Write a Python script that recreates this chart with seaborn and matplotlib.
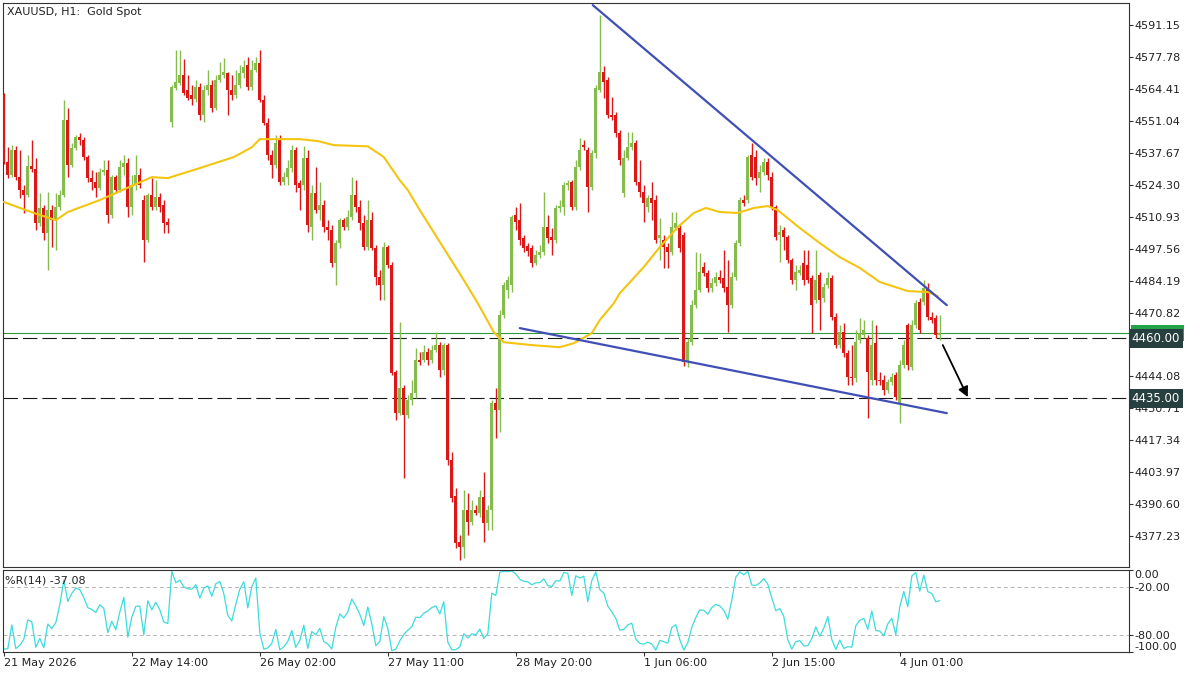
import seaborn as sns
import pandas as pd
import numpy as np
import matplotlib.pyplot as plt
import matplotlib.transforms as mtransforms
from matplotlib.patches import Rectangle

#-----------------------------------------------------------------------------------------------------------------------
"""Data read off the chart (H1 candles, one row of ten per line)"""
opens = [
    4561.9, 4533.8, 4528.3, 4538.8, 4527.5, 4522.1, 4520.0, 4532.1, 4530.9, 4508.3,
    4514.6, 4504.1, 4513.7, 4509.5, 4515.0, 4520.0, 4551.3, 4532.5, 4539.6, 4544.2,
    4543.0, 4535.9, 4527.1, 4525.4, 4522.9, 4529.6, 4530.4, 4511.6, 4527.5, 4522.1,
    4531.7, 4533.4, 4515.0, 4524.2, 4528.3, 4517.9, 4501.2, 4520.0, 4515.0, 4519.1,
    4515.8, 4508.7, 4550.5, 4564.8, 4566.9, 4570.2, 4564.0, 4561.9, 4560.2, 4565.2,
    4553.4, 4564.0, 4566.1, 4556.4, 4568.1, 4570.2, 4571.1, 4564.0, 4561.9, 4566.1,
    4571.1, 4574.4, 4565.2, 4572.3, 4575.3, 4559.7, 4550.1, 4536.7, 4532.5, 4543.0,
    4525.4, 4527.5, 4531.3, 4538.8, 4525.0, 4524.2, 4535.5, 4506.6, 4520.8, 4513.7,
    4515.8, 4506.6, 4505.3, 4491.6, 4499.9, 4509.5, 4506.6, 4510.8, 4520.0, 4515.0,
    4508.3, 4498.2, 4509.5, 4497.8, 4485.7, 4482.4, 4498.2, 4490.7, 4445.9, 4428.8,
    4439.2, 4427.9, 4434.2, 4437.1, 4450.9, 4450.9, 4454.3, 4450.9, 4455.1, 4457.2,
    4446.7, 4457.2, 4409.0, 4393.9, 4374.7, 4372.6, 4388.1, 4383.1, 4388.1, 4386.9,
    4393.6, 4382.7, 4388.1, 4432.9, 4430.0, 4469.7, 4480.3, 4482.4, 4511.6, 4509.5,
    4502.0, 4498.6, 4497.8, 4491.6, 4494.9, 4496.2, 4506.6, 4502.5, 4501.2, 4514.6,
    4515.0, 4524.2, 4525.4, 4515.0, 4531.7, 4540.9, 4538.8, 4523.3, 4537.5, 4564.0,
    4571.5, 4568.1, 4553.4, 4553.4, 4545.9, 4520.8, 4535.5, 4540.0, 4541.7, 4525.4,
    4521.2, 4515.0, 4518.7, 4517.9, 4502.0, 4501.2, 4498.2, 4496.2, 4506.2, 4506.2,
    4503.3, 4450.1, 4458.4, 4473.9, 4480.3, 4489.9, 4487.4, 4481.1, 4483.2, 4485.7,
    4485.3, 4481.6, 4473.9, 4485.7, 4499.9, 4517.9, 4517.9, 4536.7, 4535.9, 4527.1,
    4529.6, 4533.8, 4527.5, 4515.0, 4503.3, 4505.3, 4502.5, 4492.8, 4484.5, 4487.4,
    4491.6, 4490.7, 4485.3, 4476.0, 4486.5, 4476.8, 4482.4, 4485.3, 4468.9, 4457.2,
    4462.6, 4453.9, 4443.8, 4443.4, 4459.3, 4461.4, 4460.1, 4442.5, 4458.0, 4442.5,
    4442.5, 4438.3, 4441.7, 4444.6, 4432.9, 4448.8, 4465.5, 4448.0, 4465.5, 4475.2,
    4475.2, 4481.1, 4468.9, 4468.5, 4461.4,
]
closes = [
    4533.8, 4528.3, 4538.8, 4527.5, 4522.1, 4520.0, 4532.1, 4530.9, 4508.3, 4514.6,
    4504.1, 4513.7, 4509.5, 4515.0, 4520.0, 4551.3, 4532.5, 4539.6, 4544.2, 4543.0,
    4535.9, 4527.1, 4525.4, 4522.9, 4529.6, 4530.4, 4511.6, 4527.5, 4522.1, 4531.7,
    4533.4, 4515.0, 4524.2, 4528.3, 4524.2, 4501.2, 4520.0, 4515.0, 4519.1, 4515.0,
    4508.3, 4507.4, 4565.2, 4567.3, 4570.2, 4562.7, 4560.6, 4560.2, 4565.2, 4553.4,
    4564.0, 4566.1, 4556.4, 4568.1, 4570.2, 4571.5, 4564.0, 4561.9, 4566.1, 4571.1,
    4573.6, 4565.2, 4572.3, 4575.3, 4559.7, 4550.1, 4536.7, 4532.5, 4541.7, 4525.4,
    4527.5, 4531.3, 4538.8, 4524.2, 4522.9, 4535.5, 4507.4, 4520.8, 4513.7, 4515.8,
    4506.6, 4505.3, 4491.6, 4499.9, 4509.5, 4506.6, 4510.8, 4520.0, 4515.0, 4508.3,
    4498.2, 4509.5, 4497.8, 4485.7, 4482.4, 4498.2, 4490.7, 4445.5, 4428.8, 4439.2,
    4427.9, 4434.2, 4437.1, 4450.9, 4450.1, 4454.3, 4450.9, 4455.1, 4457.2, 4446.7,
    4457.2, 4409.0, 4393.1, 4374.3, 4372.6, 4388.1, 4383.1, 4388.1, 4386.9, 4393.6,
    4382.7, 4388.1, 4432.9, 4430.0, 4469.7, 4482.4, 4484.5, 4510.8, 4508.7, 4501.2,
    4497.8, 4496.6, 4491.6, 4494.9, 4496.2, 4506.6, 4502.0, 4501.2, 4514.6, 4515.4,
    4524.2, 4525.0, 4515.0, 4531.7, 4538.8, 4540.0, 4523.3, 4537.5, 4564.8, 4571.5,
    4567.3, 4553.4, 4552.6, 4545.9, 4534.6, 4535.5, 4540.0, 4541.7, 4525.4, 4521.2,
    4516.6, 4518.7, 4516.6, 4501.2, 4503.3, 4498.2, 4496.2, 4506.6, 4508.3, 4497.8,
    4450.1, 4458.4, 4473.9, 4480.3, 4487.8, 4487.4, 4481.1, 4483.2, 4485.7, 4484.5,
    4481.1, 4473.9, 4485.7, 4499.9, 4517.9, 4516.6, 4535.9, 4527.5, 4527.1, 4529.6,
    4533.8, 4528.3, 4515.0, 4502.5, 4504.5, 4502.5, 4492.8, 4484.5, 4487.8, 4488.6,
    4484.5, 4484.5, 4473.9, 4484.5, 4476.0, 4481.6, 4485.3, 4468.9, 4457.2, 4462.6,
    4453.9, 4443.8, 4443.4, 4458.4, 4462.2, 4463.5, 4445.9, 4457.2, 4442.5, 4442.1,
    4438.3, 4441.7, 4443.8, 4435.4, 4448.8, 4457.2, 4448.8, 4465.5, 4474.7, 4463.5,
    4481.1, 4468.9, 4467.5, 4461.4, 4462.2,
]
highs = [
    4562.7, 4540.0, 4540.9, 4540.4, 4538.8, 4524.2, 4536.7, 4543.0, 4535.5, 4520.8,
    4515.8, 4521.2, 4515.8, 4520.8, 4522.1, 4559.7, 4556.4, 4541.7, 4545.1, 4545.9,
    4544.2, 4536.7, 4530.4, 4529.6, 4531.3, 4534.6, 4534.6, 4528.3, 4528.3, 4534.6,
    4536.7, 4535.5, 4528.3, 4536.7, 4531.3, 4520.0, 4520.8, 4527.1, 4526.2, 4520.8,
    4517.9, 4510.4, 4566.1, 4580.7, 4580.7, 4576.9, 4570.2, 4566.1, 4568.1, 4566.9,
    4566.1, 4572.3, 4568.1, 4570.2, 4575.7, 4577.3, 4571.5, 4570.2, 4572.3, 4574.4,
    4576.5, 4577.8, 4576.5, 4577.8, 4580.7, 4561.9, 4552.2, 4538.8, 4545.1, 4545.1,
    4529.6, 4534.6, 4540.9, 4540.0, 4526.2, 4540.4, 4538.8, 4524.2, 4531.7, 4525.4,
    4517.9, 4509.5, 4507.4, 4501.2, 4510.4, 4510.4, 4513.7, 4527.5, 4526.2, 4517.9,
    4511.6, 4517.9, 4512.9, 4499.1, 4488.6, 4500.3, 4499.1, 4492.0, 4446.7, 4466.8,
    4440.4, 4436.3, 4442.5, 4455.9, 4454.3, 4457.2, 4455.9, 4457.2, 4462.6, 4458.4,
    4458.0, 4458.0, 4412.4, 4397.3, 4377.6, 4396.5, 4395.2, 4392.3, 4390.2, 4396.5,
    4404.0, 4390.2, 4434.2, 4439.2, 4471.8, 4483.6, 4486.1, 4511.6, 4515.0, 4516.6,
    4503.3, 4499.9, 4499.1, 4497.0, 4499.1, 4521.2, 4511.6, 4506.2, 4515.8, 4517.9,
    4525.4, 4526.2, 4526.2, 4534.6, 4543.8, 4543.0, 4540.0, 4538.8, 4566.1, 4595.3,
    4574.0, 4569.4, 4561.0, 4554.7, 4547.1, 4538.8, 4546.3, 4546.3, 4543.0, 4534.6,
    4524.2, 4520.0, 4525.4, 4520.0, 4510.4, 4503.3, 4499.9, 4512.9, 4512.9, 4507.4,
    4504.5, 4460.1, 4476.0, 4496.2, 4495.7, 4492.0, 4488.6, 4485.3, 4487.8, 4488.6,
    4497.0, 4492.8, 4487.8, 4501.2, 4519.1, 4520.0, 4536.7, 4541.7, 4538.8, 4532.5,
    4535.5, 4535.5, 4529.6, 4515.8, 4507.4, 4506.6, 4503.3, 4493.7, 4490.7, 4490.7,
    4497.0, 4497.0, 4486.5, 4497.0, 4487.8, 4483.2, 4487.8, 4486.5, 4470.6, 4465.5,
    4466.4, 4455.1, 4457.2, 4463.5, 4468.5, 4467.5, 4461.4, 4467.5, 4465.5, 4445.9,
    4444.6, 4443.0, 4445.5, 4445.9, 4450.9, 4459.3, 4466.4, 4467.5, 4476.0, 4476.8,
    4484.5, 4483.2, 4471.0, 4469.7, 4469.7,
]
lows = [
    4532.9, 4527.1, 4527.5, 4526.2, 4518.7, 4512.5, 4519.1, 4529.6, 4505.3, 4507.0,
    4501.2, 4488.6, 4498.2, 4497.0, 4513.7, 4519.1, 4527.5, 4531.7, 4538.8, 4540.9,
    4534.6, 4525.4, 4522.1, 4519.1, 4522.1, 4528.3, 4508.3, 4510.4, 4520.8, 4521.2,
    4528.3, 4510.8, 4511.6, 4522.1, 4522.9, 4492.0, 4500.3, 4513.7, 4513.7, 4512.9,
    4504.1, 4504.1, 4548.4, 4564.0, 4566.1, 4561.9, 4559.7, 4557.6, 4558.9, 4551.3,
    4550.5, 4561.9, 4554.7, 4555.5, 4567.3, 4568.9, 4553.4, 4559.7, 4560.6, 4564.8,
    4568.9, 4564.0, 4564.0, 4571.5, 4558.9, 4549.2, 4534.6, 4527.1, 4531.3, 4524.2,
    4524.2, 4524.2, 4529.6, 4521.2, 4513.7, 4522.1, 4504.5, 4501.2, 4512.5, 4509.5,
    4504.5, 4501.2, 4489.9, 4482.4, 4497.8, 4505.3, 4505.3, 4509.5, 4512.9, 4505.3,
    4497.0, 4497.0, 4497.0, 4482.4, 4476.0, 4476.0, 4489.5, 4444.6, 4425.8, 4427.9,
    4401.5, 4426.7, 4432.1, 4435.0, 4448.8, 4450.1, 4448.8, 4449.7, 4454.3, 4443.8,
    4444.6, 4406.9, 4391.5, 4372.2, 4367.2, 4368.0, 4377.6, 4381.8, 4386.0, 4385.2,
    4374.7, 4379.7, 4379.7, 4418.3, 4420.8, 4468.5, 4476.8, 4479.4, 4505.3, 4499.1,
    4496.2, 4494.5, 4489.9, 4490.7, 4493.7, 4494.9, 4499.9, 4494.9, 4499.9, 4512.9,
    4511.6, 4522.1, 4513.7, 4513.7, 4530.4, 4538.8, 4512.9, 4522.1, 4535.5, 4563.1,
    4560.6, 4552.2, 4551.3, 4544.2, 4532.5, 4519.1, 4534.6, 4538.8, 4524.2, 4519.1,
    4508.7, 4512.9, 4509.5, 4499.9, 4492.8, 4489.5, 4489.5, 4494.9, 4505.3, 4496.2,
    4448.4, 4448.0, 4457.2, 4472.7, 4479.4, 4486.1, 4479.4, 4479.4, 4482.0, 4483.2,
    4479.4, 4462.6, 4472.7, 4484.5, 4498.6, 4515.4, 4516.6, 4526.2, 4524.2, 4521.2,
    4528.3, 4526.2, 4513.7, 4501.2, 4492.0, 4497.0, 4491.6, 4482.8, 4480.3, 4486.5,
    4482.4, 4483.2, 4462.2, 4474.7, 4463.5, 4475.2, 4481.1, 4467.5, 4455.9, 4455.9,
    4452.2, 4440.4, 4440.4, 4441.7, 4458.0, 4460.1, 4426.7, 4440.4, 4440.4, 4440.4,
    4436.3, 4437.1, 4440.4, 4434.2, 4424.6, 4447.6, 4446.7, 4446.7, 4464.3, 4462.2,
    4473.9, 4467.5, 4466.4, 4460.1, 4459.3,
]

#Yellow moving average, read at bar positions
ma_idx = [0, 7.5, 13, 16, 24, 32.5, 37, 41, 49, 57.5, 62, 64, 70, 74, 78.5, 82.5, 91, 95, 99, 101,
          104, 115, 118.5, 122.5, 125, 132, 139, 142.5, 147, 149, 152.5, 154, 160, 164, 168.5,
          172.5, 175.5, 179, 183.5, 187.5, 191, 193.5, 199, 204, 209, 214, 219, 226, 231, 233.5]
ma_val = [4517.1, 4512.5, 4509.5, 4512.9, 4517.9, 4524.2, 4527.5, 4527.1, 4531.3, 4535.9,
          4540.0, 4543.4, 4543.4, 4543.4, 4542.6, 4540.9, 4540.4, 4535.9, 4526.2, 4522.1,
          4513.7, 4484.4, 4474.7, 4462.6, 4458.4, 4457.2, 4456.3, 4458.0, 4462.2, 4467.7,
          4474.7, 4478.9, 4489.9, 4498.2, 4506.6, 4512.5, 4514.6, 4512.9, 4512.5, 4514.6,
          4515.4, 4513.7, 4506.2, 4499.9, 4494.0, 4489.5, 4483.6, 4479.8, 4479.4, 4477.7]

#Drawn objects (bar index, price)
upper_trend_idx = [147.25, 235.75]
upper_trend_px = [4599.5, 4473.9]
lower_trend_idx = [129, 235.75]
lower_trend_px = [4464.3, 4428.7]
arrow_idx = [234.75, 241]
arrow_px = [4457.2, 4435.4]
levels = [4460.00, 4435.00]

#Axis labels
price_ticks = [4591.15, 4577.78, 4564.41, 4551.04, 4537.67, 4524.30, 4510.93, 4497.56, 4484.19,
               4470.82, 4457.45, 4444.08, 4430.71, 4417.34, 4403.97, 4390.60, 4377.23]
date_ticks = [0, 32, 64, 96, 128, 160, 192, 224]
date_labels = ['21 May 2026', '22 May 14:00', '26 May 02:00', '27 May 11:00',
               '28 May 20:00', '1 Jun 06:00', '2 Jun 15:00', '4 Jun 01:00']
wr_ticks = [0, -20, -80, -100]
wr_labels = ['0.00', '-20.00', '-80.00', '-100.00']

#-----------------------------------------------------------------------------------------------------------------------
"""Frame + colours"""
sns.set_theme(style='white')
plt.rcParams['font.family'] = ['DejaVu Sans']

green = '#86bb4e'
red = '#dc1717'
yellow = '#f3c511'
blue = '#3f4fb5'
cyan = '#3ddcdc'
axcol = '#333333'

df = pd.DataFrame({'open': opens, 'high': highs, 'low': lows, 'close': closes})
assert len(df) == 235
df['high'] = df[['open', 'high', 'close']].max(axis=1)
df['low'] = df[['open', 'low', 'close']].min(axis=1)
df['x'] = np.arange(len(df))

#Williams %R(14)
hh = df['high'].rolling(14, min_periods=1).max()
ll = df['low'].rolling(14, min_periods=1).min()
df['wr'] = -100 * (hh - df['close']) / (hh - ll)

fig = plt.figure(figsize=(12, 6.75), dpi=100)
fig.patch.set_facecolor('white')
ax1 = fig.add_axes([3 / 1200, 1 - 567 / 675, 1126 / 1200, 564 / 675])
ax2 = fig.add_axes([3 / 1200, 1 - 652 / 675, 1126 / 1200, 82 / 675])

#-----------------------------------------------------------------------------------------------------------------------
"""Candles"""
up = df['close'] >= df['open']
cols = np.where(up, green, red)
ax1.vlines(df['x'], df['low'], df['high'], colors=cols, linewidth=1, zorder=2)
body = np.maximum((df['close'] - df['open']).abs(), 0.4)
ax1.bar(df['x'], body, bottom=df[['open', 'close']].min(axis=1), width=0.72,
        color=cols, linewidth=0, zorder=3)

#Moving average
sns.lineplot(x=ma_idx, y=ma_val, ax=ax1, color=yellow, linewidth=1.5, zorder=4, estimator=None)

#Trend lines + levels
ax1.plot(upper_trend_idx, upper_trend_px, color=blue, linewidth=1.6, zorder=5)
ax1.plot(lower_trend_idx, lower_trend_px, color=blue, linewidth=1.6, zorder=5)
for lv in levels:
    ax1.axhline(lv, color='#1a1a1a', linewidth=0.8, dashes=(13, 4.5), zorder=1)
ax1.axhline(closes[-1], color='#2e9a3c', linewidth=0.8, zorder=1)
ax1.annotate('', xy=(arrow_idx[1], arrow_px[1]), xytext=(arrow_idx[0], arrow_px[0]),
             arrowprops=dict(arrowstyle='-|>', color='black', lw=1.3, mutation_scale=15,
                             shrinkA=0, shrinkB=0), zorder=6)

#-----------------------------------------------------------------------------------------------------------------------
"""Price axis"""
ax1.set_xlim(-0.2, 281.3)
ax1.set_ylim(4364.3, 4600.4)
ax1.set_xticks([])
ax1.yaxis.tick_right()
ax1.set_yticks(price_ticks)
ax1.set_yticklabels([f'{p:.2f}' for p in price_ticks])
ax1.tick_params(axis='y', direction='out', length=3, width=0.8, pad=1, labelsize=8,
                colors=axcol, labelcolor='#222222', right=True, left=False)
for s in ax1.spines.values():
    s.set_color(axcol)
    s.set_linewidth(0.8)

#Price labels on the right (bid box sits mostly hidden behind the 4460 label)
trans = mtransforms.blended_transform_factory(ax1.transAxes, ax1.transData)
ax1.add_patch(Rectangle((1.0015, closes[-1] - 3.4), 0.0475, 6.8, transform=trans,
                        facecolor='#22a347', edgecolor='none', clip_on=False, zorder=7))
for lv in levels:
    ax1.text(1.0025, lv, f'{lv:.2f}', transform=trans, ha='left', va='center',
             fontsize=8.5, color='white', zorder=8, clip_on=False,
             bbox=dict(boxstyle='square,pad=0.25', fc='#27403f', ec='none'))

ax1.text(0.0036, 0.984, 'XAUUSD, H1:  Gold Spot', transform=ax1.transAxes, ha='left',
         va='center', fontsize=8, color='#222222')

#-----------------------------------------------------------------------------------------------------------------------
"""Williams %R panel"""
sns.lineplot(data=df, x='x', y='wr', ax=ax2, color=cyan, linewidth=0.9, estimator=None)
for lv in [-20, -80]:
    ax2.axhline(lv, color='#b5b5b5', linewidth=0.7, dashes=(4, 3), zorder=0)
ax2.set_xlim(-0.2, 281.3)
ax2.set_ylim(-100.6, 0.6)
ax2.set_xlabel('')
ax2.set_ylabel('')
ax2.yaxis.tick_right()
ax2.set_yticks(wr_ticks)
ax2.set_yticklabels(wr_labels)
ax2.tick_params(axis='y', direction='out', length=3, width=0.8, pad=1, labelsize=8,
                colors=axcol, labelcolor='#222222', right=True, left=False)
for lbl, v in zip(ax2.get_yticklabels(), wr_ticks):
    if v == 0:
        lbl.set_va('top')
    elif v == -100:
        lbl.set_va('bottom')
ax2.set_xticks(date_ticks)
ax2.set_xticklabels(date_labels)
ax2.tick_params(axis='x', direction='out', length=3, width=0.8, pad=1.5, labelsize=8,
                colors=axcol, labelcolor='#222222', bottom=True)
for lbl in ax2.get_xticklabels():
    lbl.set_ha('left')
for s in ax2.spines.values():
    s.set_color(axcol)
    s.set_linewidth(0.8)
ax2.text(0.0018, 0.866, '%R(14) -37.08', transform=ax2.transAxes, ha='left', va='center',
         fontsize=8, color='#222222')

#-----------------------------------------------------------------------------------------------------------------------
"""Save"""
fig.savefig('out.png', dpi=100)
